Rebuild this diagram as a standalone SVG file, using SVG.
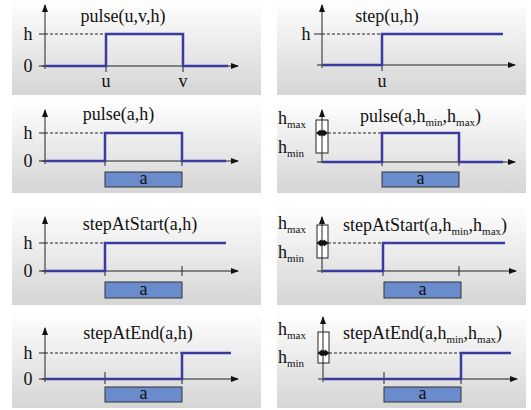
<svg xmlns="http://www.w3.org/2000/svg" width="531" height="410" viewBox="0 0 531 410">
<defs>
<linearGradient id="bg" x1="0" y1="0" x2="0" y2="1">
<stop offset="0" stop-color="#ffffff"/>
<stop offset="1" stop-color="#d5d5d5"/>
</linearGradient>
<marker id="arr" viewBox="0 0 8 6" refX="7" refY="3" markerWidth="8" markerHeight="6" markerUnits="userSpaceOnUse" orient="auto">
<path d="M0,0 L8,3 L0,6 Z" fill="#111"/>
</marker>
<g id="rng">
<polygon points="-6,0 -1.5,-3.5 -1.5,-1.5 1.5,-1.5 1.5,-3.5 6,0 1.5,3.5 1.5,1.5 -1.5,1.5 -1.5,3.5" fill="#111"/>
<circle cx="0" cy="0" r="2.8" fill="#111"/>
</g>
</defs>
<style>
.panel{fill:url(#bg)}
.ax{stroke:#222;stroke-width:1;fill:none}
.axa{stroke:#222;stroke-width:1;fill:none;marker-end:url(#arr)}
.sig{stroke:#3a3aa0;stroke-width:2.5;fill:none}
.dash{stroke:#222;stroke-width:1;stroke-dasharray:3,2;fill:none}
.box{fill:#6a8ccc;stroke:#333;stroke-width:1}
.rbox{fill:#fff;stroke:#222;stroke-width:1}
text{font-family:'Liberation Serif','DejaVu Serif',serif;font-size:18px;fill:#111}
.m{text-anchor:middle}
.sub{font-size:11px}
</style>

<g id="panel1" font-family="Liberation Serif, DejaVu Serif, serif">
<rect class="panel" x="12" y="0" width="249" height="95"/>
<path class="axa" d="M45,69 V5"/>
<path class="axa" d="M42,66 H238"/>
<path class="ax" d="M39,34 H45 M39,66 H45 M106,66 V72 M183,66 V72"/>
<path class="dash" d="M45,34 H106"/>
<path class="sig" d="M46,66 H106 V34 H183 V66 H228"/>
<text class="m" x="28" y="40">h</text>
<text class="m" x="28" y="72">0</text>
<text class="m" x="106" y="87">u</text>
<text class="m" x="183" y="87">v</text>
<text class="m" x="123" y="22">pulse(u,v,h)</text>
</g>

<g id="panel2" font-family="Liberation Serif, DejaVu Serif, serif">
<rect class="panel" x="277" y="0" width="249" height="95"/>
<path class="axa" d="M322,68 V5"/>
<path class="axa" d="M317,65 H515"/>
<path class="ax" d="M314,34 H322 M382,65 V71"/>
<path class="dash" d="M322,34 H382"/>
<path class="sig" d="M323,65 H382 V34 H503"/>
<text class="m" x="306" y="40">h</text>
<text class="m" x="382" y="87">u</text>
<text class="m" x="387" y="22">step(u,h)</text>
</g>

<g id="panel3" font-family="Liberation Serif, DejaVu Serif, serif">
<rect class="panel" x="12" y="100" width="249" height="93"/>
<path class="axa" d="M45,164 V110"/>
<path class="axa" d="M42,161 H238"/>
<path class="ax" d="M39,133 H45 M39,161 H45 M105,158 V166 M182,158 V166"/>
<path class="dash" d="M45,133 H105"/>
<path class="sig" d="M46,161 H105 V133 H182 V161 H226"/>
<rect class="box" x="105" y="172" width="77" height="15"/>
<text class="m" x="143.5" y="184">a</text>
<text class="m" x="28" y="139">h</text>
<text class="m" x="28" y="167">0</text>
<text class="m" x="118.5" y="120">pulse(a,h)</text>
</g>

<g id="panel4" font-family="Liberation Serif, DejaVu Serif, serif">
<rect class="panel" x="277" y="100" width="249" height="93"/>
<rect class="rbox" x="316" y="120" width="12" height="33"/>
<path class="axa" d="M322,163 V110"/>
<path class="axa" d="M317,162 H515"/>
<use href="#rng" x="322" y="133"/>
<path class="ax" d="M382,158 V166 M459,158 V166"/>
<path class="dash" d="M328,133 H382"/>
<path class="sig" d="M323,162 H382 V133 H459 V162 H503"/>
<rect class="box" x="382" y="172" width="77" height="15"/>
<text class="m" x="420.5" y="184">a</text>
<text x="278" y="124">h<tspan class="sub" dy="4">max</tspan></text>
<text x="278" y="153">h<tspan class="sub" dy="4">min</tspan></text>
<text x="360" y="122">pulse(a,h<tspan class="sub" dy="4">min</tspan><tspan dy="-4">,h</tspan><tspan class="sub" dy="4">max</tspan><tspan dy="-4">)</tspan></text>
</g>

<g id="panel5" font-family="Liberation Serif, DejaVu Serif, serif">
<rect class="panel" x="12" y="205" width="249" height="100"/>
<path class="axa" d="M45,274 V217"/>
<path class="axa" d="M42,271 H238"/>
<path class="ax" d="M39,243 H45 M39,271 H45 M105,266 V276 M182,266 V276"/>
<path class="dash" d="M45,243 H105"/>
<path class="sig" d="M46,271 H105 V243 H226"/>
<rect class="box" x="105" y="282" width="77" height="16"/>
<text class="m" x="143.5" y="295">a</text>
<text class="m" x="28" y="249">h</text>
<text class="m" x="28" y="277">0</text>
<text class="m" x="140" y="230">stepAtStart(a,h)</text>
</g>

<g id="panel6" font-family="Liberation Serif, DejaVu Serif, serif">
<rect class="panel" x="277" y="205" width="249" height="100"/>
<rect class="rbox" x="317" y="225" width="11" height="33"/>
<path class="axa" d="M322,273 V217"/>
<path class="axa" d="M317,271 H516"/>
<use href="#rng" x="322.5" y="243"/>
<path class="ax" d="M383,266 V276 M459,266 V276"/>
<path class="dash" d="M328,243 H383"/>
<path class="sig" d="M323,271 H383 V243 H505"/>
<rect class="box" x="384" y="282" width="77" height="16"/>
<text class="m" x="422.5" y="295">a</text>
<text x="278" y="229">h<tspan class="sub" dy="4">max</tspan></text>
<text x="278" y="258">h<tspan class="sub" dy="4">min</tspan></text>
<text x="343" y="231">stepAtStart(a,h<tspan class="sub" dy="4">min</tspan><tspan dy="-4">,h</tspan><tspan class="sub" dy="4">max</tspan><tspan dy="-4">)</tspan></text>
</g>

<g id="panel7" font-family="Liberation Serif, DejaVu Serif, serif">
<rect class="panel" x="12" y="312" width="249" height="96"/>
<path class="axa" d="M45,382 V328"/>
<path class="axa" d="M42,379 H238"/>
<path class="ax" d="M39,353 H45 M39,379 H45 M105,372 V384 M182,372 V384"/>
<path class="dash" d="M45,353 H182"/>
<path class="sig" d="M46,379 H182 V353 H231"/>
<rect class="box" x="105" y="387" width="77" height="15"/>
<text class="m" x="143.5" y="399">a</text>
<text class="m" x="28" y="359">h</text>
<text class="m" x="28" y="385">0</text>
<text class="m" x="138" y="339">stepAtEnd(a,h)</text>
</g>

<g id="panel8" font-family="Liberation Serif, DejaVu Serif, serif">
<rect class="panel" x="277" y="312" width="249" height="96"/>
<rect class="rbox" x="318" y="332" width="11" height="31"/>
<path class="axa" d="M323,382 V317"/>
<path class="axa" d="M318,379 H517"/>
<use href="#rng" x="323.5" y="353"/>
<path class="ax" d="M384,372 V384 M461,372 V384"/>
<path class="dash" d="M329,353 H461"/>
<path class="sig" d="M324,379 H461 V353 H511"/>
<rect class="box" x="384" y="387" width="77" height="15"/>
<text class="m" x="422.5" y="399">a</text>
<text x="278" y="335">h<tspan class="sub" dy="4">max</tspan></text>
<text x="278" y="363">h<tspan class="sub" dy="4">min</tspan></text>
<text x="343" y="339">stepAtEnd(a,h<tspan class="sub" dy="4">min</tspan><tspan dy="-4">,h</tspan><tspan class="sub" dy="4">max</tspan><tspan dy="-4">)</tspan></text>
</g>
<g id="connectors"></g>
</svg>
